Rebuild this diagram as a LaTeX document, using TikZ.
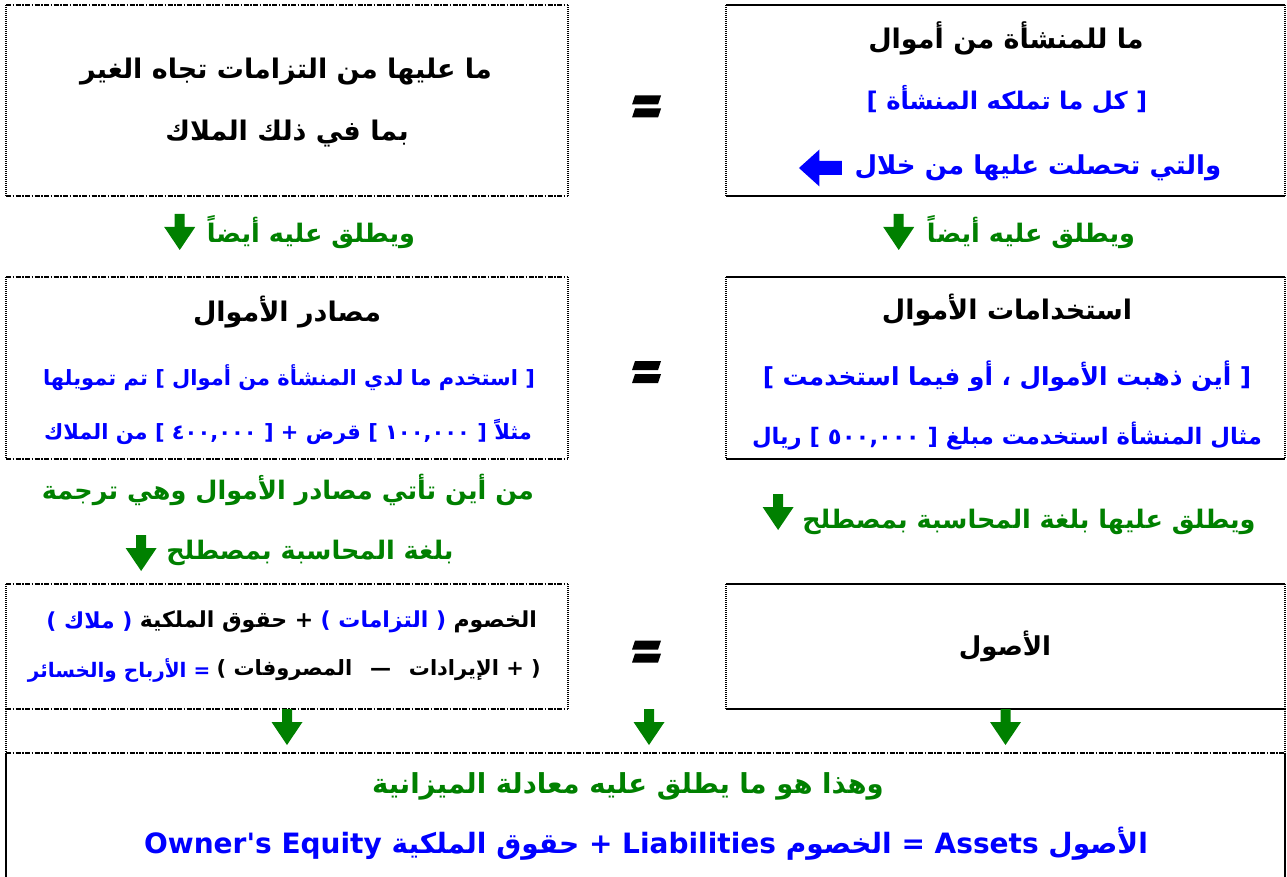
\documentclass[tikz,border=0pt]{standalone}
\usepackage{fontspec}
\usetikzlibrary{calc,positioning}
\TeXXeTstate=1
\newfontfamily\arabicfont[Script=Arabic]{DejaVu Sans}
\definecolor{argreen}{RGB}{0,128,0}
\definecolor{arblue}{RGB}{0,0,255}
\newcommand{\arline}[1]{\arabicfont\bfseries\beginR #1\endR}

\tikzset{
  panel/.style 2 args={rectangle, minimum width=#1, minimum height=#2, inner sep=0pt, outer sep=0pt},
  hdash/.style={line width=1.6pt, dash pattern=on 5pt off 1.5pt on 1.5pt off 1.5pt},
  vdot/.style={line width=1.6pt, dash pattern=on 1pt off 1pt},
  hsolid/.style={line width=2.2pt},
  head/.style={inner sep=0pt, font=\fontsize{27}{31}\selectfont},
  bluetext/.style={inner sep=0pt, text=arblue, font=\fontsize{21}{25}\selectfont},
  greentext/.style={inner sep=0pt, text=argreen, font=\fontsize{25.5}{30}\selectfont},
  sized/.style={font=\fontsize{#1}{#1}\selectfont},
  dnarrow/.pic={\fill[argreen] (-5,-18) -- (5,-18) -- (5,-5) -- (15.5,-5) -- (0,18) -- (-15.5,-5) -- (-5,-5) -- cycle;},
  lfarrow/.pic={\fill[arblue] (-21.5,0) -- (-1,-18.5) -- (-1,-7) -- (21.5,-7) -- (21.5,7) -- (-1,7) -- (-1,18.5) -- cycle;},
  eqsign/.pic={\fill (-12,-11) -- (14,-11) -- (11,-2) -- (-15,-2) -- cycle;
               \fill (-12,2) -- (14,2) -- (11,11) -- (-15,11) -- cycle;}
}

\begin{document}
\begin{tikzpicture}[x=1pt,y=-1pt]
\useasboundingbox (0,0) rectangle (1287,877);

% frames
\node[panel={562}{191}] (lb1) at (287,100.5) {};
\node[panel={559}{191}] (rb1) at (1005.5,100.5) {};
\node[panel={562}{182}] (lb2) at (287,368) {};
\node[panel={559}{182}] (rb2) at (1005.5,368) {};
\node[panel={562}{125}] (lb3) at (287,646.5) {};
\node[panel={559}{125}] (rb3) at (1005.5,646.5) {};
\node[panel={1279}{124}] (bt) at (645.5,815) {};

\foreach \b in {lb1,lb2,lb3} {
  \draw[hdash] (\b.north west) -- (\b.north east) (\b.south west) -- (\b.south east);
  \draw[vdot] (\b.north west) -- (\b.south west) (\b.north east) -- (\b.south east);
}
\foreach \b in {rb1,rb2,rb3} {
  \draw[hsolid] (\b.north west) -- (\b.north east) (\b.south west) -- (\b.south east);
  \draw[vdot] (\b.north west) -- (\b.south west) (\b.north east) -- (\b.south east);
}
\draw[vdot] (lb3.south west) -- (bt.north west);
\draw[vdot] (rb3.south east) -- (bt.north east);
\draw[hdash] (bt.north west) -- (bt.north east);
\draw[hsolid] (bt.north west) -- (bt.south west) (bt.north east) -- (bt.south east);

% row 1
\node[head] (r1a) at (1006,38) {\arline{ما للمنشأة من أموال}};
\node[bluetext, sized=24.3] (r1b) at (1007,100) {\arline{[ كل ما تملكه المنشأة ]}};
\node[bluetext, sized=26] (r1c) at (1038,168) {\arline{والتي تحصلت عليها من خلال}};
\pic at ([xshift=-34pt]r1c.west) {lfarrow};
\node[head] (l1a) at (286,72) {\arline{ما عليها من التزامات تجاه الغير}};
\node[head] (l1b) at (287,134) {\arline{بما في ذلك الملاك}};
\pic at ($(lb1.east)!0.5!(rb1.west)+(0,6)$) {eqsign};

\node[greentext] (r1d) at (1031,232) {\arline{ويطلق عليه أيضاً}};
\pic at ([xshift=-28pt]r1d.west) {dnarrow};
\node[greentext] (l1d) at (311,232) {\arline{ويطلق عليه أيضاً}};
\pic at ([xshift=-27pt]l1d.west) {dnarrow};

% row 2
\node[head] (r2a) at (1007,310) {\arline{استخدامات الأموال}};
\node[bluetext, sized=24.8] (r2b) at (1007,376) {\arline{[ أين ذهبت الأموال ، أو فيما استخدمت ]}};
\node[bluetext, sized=22.7] (r2c) at (1007,436) {\arline{مثال المنشأة استخدمت مبلغ [ ٥٠٠,٠٠٠ ] ريال}};
\node[head] (l2a) at (287,312) {\arline{مصادر الأموال}};
\node[bluetext] (l2b) at (289,378) {\arline{[ استخدم ما لدي المنشأة من أموال ] تم تمويلها}};
\node[bluetext] (l2c) at (288,432) {\arline{مثلاً [ ١٠٠,٠٠٠ ] قرض + [ ٤٠٠,٠٠٠ ] من الملاك}};
\pic at ($(lb2.east)!0.5!(rb2.west)+(0,4)$) {eqsign};

\node[greentext] (l2d) at (288,490) {\arline{من أين تأتي مصادر الأموال وهي ترجمة}};
\node[greentext] (l2e) at (310,553) {\arline{بلغة المحاسبة بمصطلح}};
\pic at ([xshift=-25pt]l2e.west) {dnarrow};
\node[greentext] (r2d) at (1029,522) {\arline{ويطلق عليها بلغة المحاسبة بمصطلح}};
\pic at ([xshift=-24pt,yshift=10pt]r2d.west) {dnarrow};

% row 3
\node[head, sized=26] (r3a) at (1005,646) {\arline{الأصول}};
\node[head, sized=22, anchor=east] (l3a1) at (537,622) {\arline{الخصوم}};
\node[head, sized=22, text=arblue, left=7pt of l3a1] (l3a2) {\arline{( التزامات )}};
\node[head, sized=22, left=7pt of l3a2] (l3a3) {\arline{+ حقوق الملكية}};
\node[head, sized=22, text=arblue, left=7pt of l3a3] (l3a4) {\arline{( ملاك )}};
\node[head, sized=21, anchor=east] (l3b1) at (541,670) {\arline{( + الإيرادات \enspace — \enspace المصروفات )}};
\node[head, sized=20, text=arblue, left=6pt of l3b1] (l3b2) {\arline{= الأرباح والخسائر}};
\pic at ($(lb3.east)!0.5!(rb3.west)+(0,5)$) {eqsign};

\pic at ([yshift=-18pt]lb3.south) {dnarrow};
\pic at (649,727) {dnarrow};
\pic at ([yshift=-18pt]rb3.south) {dnarrow};

% bottom
\node[greentext, sized=27.5] (b1) at (628,786) {\arline{وهذا هو ما يطلق عليه معادلة الميزانية}};
\node[bluetext, sized=28] (b2) at (646,844) {\arline{الأصول Assets = الخصوم Liabilities + حقوق الملكية \beginL Owner's Equity\endL}};
\end{tikzpicture}
\end{document}
